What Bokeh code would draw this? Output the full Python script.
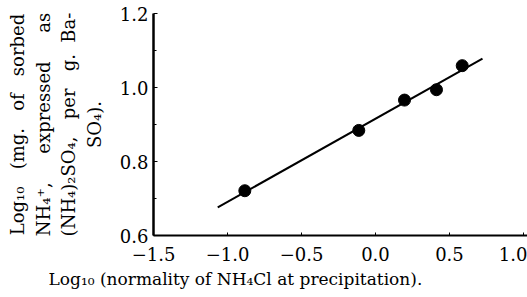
from bokeh.plotting import figure
from bokeh.models import Range1d, FixedTicker, Title
from bokeh.embed import file_html
from bokeh.resources import INLINE

# ---- data ----
x_obs = [-0.883, -0.113, 0.196, 0.412, 0.586]
y_obs = [0.721, 0.884, 0.966, 0.994, 1.059]
fit_x = [-1.066, 0.723]
fit_y = [0.676, 1.078]
x_ticks = [-1.5, -1.0, -0.5, 0.0, 0.5, 1.0]
y_ticks = [0.6, 0.8, 1.0, 1.2]
y_minor = [0.7, 0.9, 1.1]
x_label = "Log\u2081\u2080 (normality of NH\u2084Cl at precipitation)."
y_label_lines = [
    ["Log\u2081\u2080", "(mg.", "of", "sorbed"],
    ["NH\u2084\u207a,", "expressed", "as"],
    ["(NH\u2084)\u2082SO\u2084,", "per", "g.", "Ba-"],
    ["SO\u2084)."],
]

FONT = "DejaVu Serif"
NB = "\u00a0"
W, H = 527, 297
LEFT, RIGHT, TOP, BOTTOM = 153, 0, 13, 62
X0, Y0 = -1.5, 0.6
PXX = 148.0
frame_w = W - LEFT - RIGHT
x_end = X0 + frame_w / PXX

p = figure(width=W, height=H, output_backend="svg", toolbar_location=None,
           x_range=Range1d(X0, x_end), y_range=Range1d(0.6, 1.2),
           min_border_left=LEFT, min_border_right=RIGHT,
           min_border_top=TOP, min_border_bottom=BOTTOM)
p.outline_line_color = None
p.grid.visible = False

p.line(fit_x, fit_y, line_color="black", line_width=2)
p.scatter(x_obs, y_obs, size=12, fill_color="black", line_color="black")

# ---- x axis ----
xa = p.xaxis[0]
xa.ticker = FixedTicker(ticks=x_ticks, minor_ticks=[])
xa.major_label_overrides = {t: f"{t:.1f}".replace("-", "\u2212") for t in x_ticks}
xa.axis_line_width = 2
xa.axis_line_color = "black"
xa.major_tick_in = 3
xa.major_tick_out = 0
xa.major_label_standoff = 11
xa.major_label_text_font = FONT
xa.major_label_text_font_size = "18px"
xa.major_label_text_color = "black"

p.add_layout(Title(text=x_label, align="left", offset=-105, vertical_align="top",
                   standoff=10, text_font=FONT, text_font_size="17px",
                   text_font_style="normal", text_color="black"), "below")

# ---- y axis ----
ya = p.yaxis[0]
ya.ticker = FixedTicker(ticks=y_ticks, minor_ticks=y_minor)
ya.major_label_overrides = {t: f"{t:.1f}" for t in y_ticks}
ya.axis_line_width = 2.5
ya.axis_line_color = "black"
ya.major_tick_in = 4
ya.major_tick_out = 0
ya.minor_tick_in = 3
ya.minor_tick_out = 0
ya.major_label_standoff = 5
ya.major_label_text_font = FONT
ya.major_label_text_font_size = "18px"
ya.major_label_text_color = "black"

# justified y title: widen the word gaps with no-break spaces
gaps = [[3, 3, 3], [5, 5], [3, 3, 2], []]
lines = []
for words, g in zip(y_label_lines, gaps):
    s = words[0]
    for w, n in zip(words[1:], g):
        s += " " + NB * (n - 1) + w
    lines.append(s)
lines[-1] = NB * 15 + lines[-1] + NB * 15
ya.axis_label = "\n".join(lines)
ya.axis_label_text_font = FONT
ya.axis_label_text_font_size = "18px"
ya.axis_label_text_font_style = "normal"
ya.axis_label_text_color = "black"
ya.axis_label_text_line_height = 1.222
ya.axis_label_standoff = 12

open("out.html", "w").write(file_html(p, INLINE))
